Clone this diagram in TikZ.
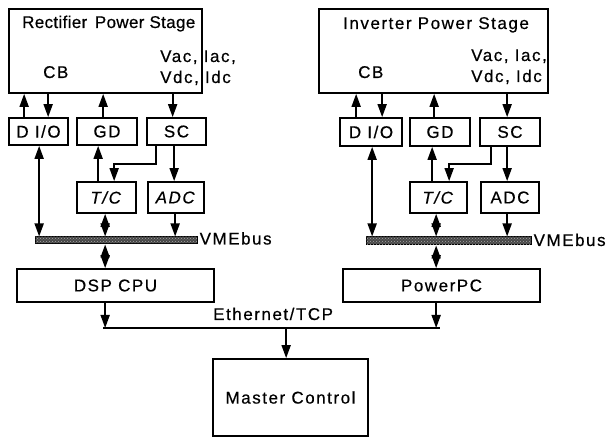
\documentclass[tikz,border=0pt]{standalone}
\usepackage{fontspec}
\setmainfont{Liberation Sans}[LetterSpace=9,FakeBold=0.5]
\newfontfamily\tightfont{Liberation Sans}[LetterSpace=2,FakeBold=0.5]
\usetikzlibrary{arrows.meta,patterns}
\begin{document}
\begin{tikzpicture}[x=1pt,y=-1pt,
  every node/.style={font=\fontsize{17}{20}\selectfont},
  box/.style={draw, line width=1.7pt, inner sep=0pt, minimum width=#1},
  bus/.style={draw, line width=1pt, fill=black!72, inner sep=0pt, minimum width=#1,
    postaction={pattern=crosshatch dots, pattern color=black!35}},
  lbl/.style={anchor=base west, inner sep=0pt},
  tip/.tip={Triangle[length=13pt,width=9pt]},
  arr/.style={line width=1.7pt, -tip},
  darr/.style={line width=1.7pt, tip-tip},
  ln/.style={line width=1.7pt}]
\useasboundingbox (0,0) rectangle (606,438);
% ---------- left column ----------
\node[box=193pt, minimum height=84pt] (PS1) at (105.5,51) {};
\node[lbl, font=\fontsize{17}{20}\tightfont] (t1) at (22,28) {Rectifier\hspace{0.45em}Power Stage};
\node[lbl] (cb1) at (43,78) {CB};
\node[lbl] (v1) at (160,62) {Vac, Iac,};
\node[lbl] (v1b) at (160,83) {Vdc, Idc};
\node[box=59pt, minimum height=27pt] (DIO1) at (38.5,131.5) {D I/O};
\node[box=60pt, minimum height=27pt] (GD1) at (107,131.5) {GD};
\node[box=59pt, minimum height=27pt] (SC1) at (176.5,131.5) {SC};
\node[box=59pt, minimum height=31pt] (TC1) at (106.5,197.5) {\textit{T/C}};
\node[box=56pt, minimum height=31pt] (ADC1) at (176,197.5) {\textit{ADC}};
\node[bus=162pt, minimum height=7pt] (VME1) at (116,240.5) {};
\node[lbl] (vl1) at ([xshift=2pt,yshift=-4pt]VME1.east) {VMEbus};
\node[box=197pt, minimum height=33pt] (DSP) at (115.5,285.5) {DSP CPU};
% ---------- right column ----------
\node[box=229pt, minimum height=84pt] (PS2) at (433.5,51) {};
\node[lbl] (t2) at (343,29) {Inverter Power Stage};
\node[lbl] (cb2) at (358,78) {CB};
\node[lbl] (v2) at (471,61) {Vac, Iac,};
\node[lbl] (v2b) at (471,82) {Vdc, Idc};
\node[box=62pt, minimum height=28pt] (DIO2) at (371,132) {D I/O};
\node[box=60pt, minimum height=28pt] (GD2) at (440,132) {GD};
\node[box=60pt, minimum height=28pt] (SC2) at (510,132) {SC};
\node[box=57pt, minimum height=31pt] (TC2) at (438.5,197.5) {\textit{T/C}};
\node[box=58pt, minimum height=31pt] (ADC2) at (510,197.5) {ADC};
\node[bus=165pt, minimum height=8pt] (VME2) at (448.5,241) {};
\node[lbl] (vl2) at ([xshift=2pt,yshift=-5pt]VME2.east) {VMEbus};
\node[box=197pt, minimum height=33pt] (PPC) at (441.5,285.5) {PowerPC};
% ---------- bottom ----------
\coordinate (ethL) at (103,328);
\coordinate (ethR) at (440,328);
\node[lbl] (eth) at (213,320) {Ethernet/TCP};
\node[box=155pt, minimum height=77pt] (MC) at (290.5,397.5) {Master Control};
% ---------- connectors left ----------
\draw[arr] ([xshift=16pt]DIO1.north west) -- ([xshift=16pt]DIO1.north west |- PS1.south);
\draw[arr] ([xshift=40pt]DIO1.north west |- PS1.south) -- ([xshift=40pt]DIO1.north west);
\draw[arr] ([xshift=27pt]GD1.north west) -- ([xshift=27pt]GD1.north west |- PS1.south);
\draw[arr] ([xshift=26.5pt]SC1.north west |- PS1.south) -- ([xshift=26.5pt]SC1.north west);
\draw[arr] ([xshift=9.5pt]SC1.south west) -- ++(0,18) -| ([xshift=38pt]TC1.north west);
\draw[arr] ([xshift=27pt]ADC1.north west |- SC1.south) -- ([xshift=27pt]ADC1.north west);
\draw[arr] ([xshift=22pt]TC1.north west) -- ([xshift=22pt]TC1.north west |- GD1.south);
\draw[darr] ([xshift=31pt]DIO1.south west) -- ([xshift=31pt]DIO1.south west |- VME1.north);
\draw[darr] ([xshift=29pt]TC1.south west) -- ([xshift=29pt]TC1.south west |- VME1.north);
\draw[arr] ([xshift=28pt]ADC1.south west) -- ([xshift=28pt]ADC1.south west |- VME1.north);
\draw[darr] ([xshift=89pt]DSP.north west |- VME1.south) -- ([xshift=89pt]DSP.north west);
\draw[arr] ([xshift=89pt]DSP.south west) -- ([xshift=89pt]DSP.south west |- ethL);
% ---------- connectors right ----------
\draw[arr] ([xshift=17pt]DIO2.north west) -- ([xshift=17pt]DIO2.north west |- PS2.south);
\draw[arr] ([xshift=43pt]DIO2.north west |- PS2.south) -- ([xshift=43pt]DIO2.north west);
\draw[arr] ([xshift=25pt]GD2.north west) -- ([xshift=25pt]GD2.north west |- PS2.south);
\draw[arr] ([xshift=28pt]SC2.north west |- PS2.south) -- ([xshift=28pt]SC2.north west);
\draw[arr] ([xshift=12pt]SC2.south west) -- ++(0,17) -| ([xshift=40pt]TC2.north west);
\draw[arr] ([xshift=27pt]ADC2.north west |- SC2.south) -- ([xshift=27pt]ADC2.north west);
\draw[arr] ([xshift=23pt]TC2.north west) -- ([xshift=23pt]TC2.north west |- GD2.south);
\draw[darr] ([xshift=33pt]DIO2.south west) -- ([xshift=33pt]DIO2.south west |- VME2.north);
\draw[darr] ([xshift=27pt]TC2.south west) -- ([xshift=27pt]TC2.south west |- VME2.north);
\draw[arr] ([xshift=27pt]ADC2.south west) -- ([xshift=27pt]ADC2.south west |- VME2.north);
\draw[darr] ([xshift=94pt]PPC.north west |- VME2.south) -- ([xshift=94pt]PPC.north west);
\draw[arr] ([xshift=94pt]PPC.south west) -- ([xshift=94pt]PPC.south west |- ethL);
% ---------- ethernet ----------
\draw[ln] (ethL) -- (ethR);
\draw[arr] ([xshift=74pt]MC.north west |- ethL) -- ([xshift=74pt]MC.north west);
\end{tikzpicture}
\end{document}
